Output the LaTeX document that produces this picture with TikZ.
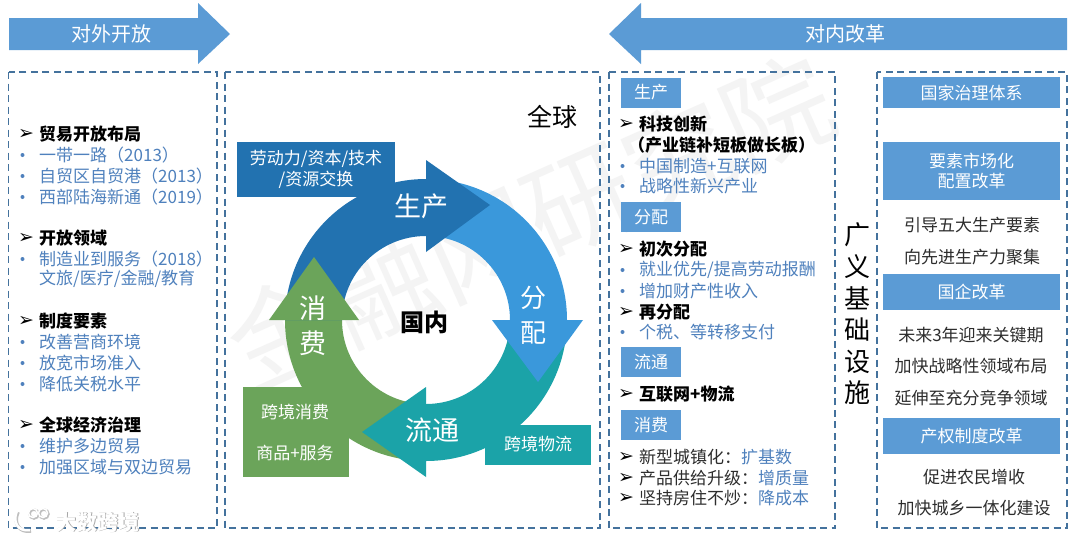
\documentclass[tikz,border=0pt]{standalone}
\usepackage{fontspec}
\usepackage{xcolor}
\setmainfont{Noto Sans CJK SC}
\newfontfamily\symfont{DejaVu Sans}
\usetikzlibrary{positioning, calc}
\definecolor{headblue}{RGB}{91, 155, 213}
\definecolor{panelblue}{RGB}{68, 114, 157}
\definecolor{listblue}{RGB}{79, 129, 189}
\definecolor{proddark}{RGB}{34, 114, 176}
\definecolor{distblue}{RGB}{58, 152, 219}
\definecolor{circteal}{RGB}{27, 163, 168}
\definecolor{consgreen}{RGB}{107, 164, 90}
\definecolor{marktext}{RGB}{244, 244, 244}
\definecolor{plaintext}{RGB}{45, 45, 45}
\newcommand{\pxfont}[1]{\fontsize{#1}{#1}\selectfont}
\tikzset{
    panelbox/.style={draw=panelblue, line width=1.2pt, dash pattern=on 7pt off 4.5pt},
    tagbox/.style={fill=headblue, text=white, inner sep=0pt, minimum width=60pt, minimum height=30pt, font=\pxfont{17}},
    reformbox/.style={fill=headblue, text=white, inner sep=0pt, minimum width=177pt, align=center, font=\pxfont{17}},
    leadline/.style={anchor=west, inner sep=0pt, text=black, font=\pxfont{17}\bfseries},
    listline/.style={anchor=west, inner sep=0pt, text=listblue, font=\pxfont{17}},
    markline/.style={anchor=west, inner sep=0pt, text=plaintext, font=\pxfont{17}},
    reformline/.style={inner sep=0pt, text=plaintext, font=\pxfont{17}},
    ringtext/.style={inner sep=0pt, text=white, font=\pxfont{27}},
    sidetext/.style={inner sep=0pt, text=white, align=center, font=\pxfont{17}},
    pointer/.style={inner sep=0pt, text=black, font=\symfont\pxfont{19}},
}
% one quarter of the ring, from angle #2 to angle #3
\newcommand{\ringpart}[3]{
    \fill[#1] ([shift={(ringctr)}]#2:141) arc[start angle=#2, end angle=#3, radius=141]
        -- ([shift={(ringctr)}]#3:84) arc[start angle=#3, end angle=#2, radius=84] -- cycle;
}
\newcommand{\bulletdot}[1]{\fill[listblue] (#1) circle (2pt);}
\begin{document}
\begin{tikzpicture}[x=1pt, y=1pt]
    \useasboundingbox (0,0) rectangle (1080,-542);
    \fill[white] (0,0) rectangle (1080,-542);

    % Watermark
    \node[rotate=24, text=marktext, font=\pxfont{108}, inner sep=0pt] (stamp) at (530,-222) {金融网研究院};

    % Top arrows
    \fill[headblue] (9,-18) -- (198,-18) -- (198,-3) -- (230,-34) -- (198,-64) -- (198,-50) -- (9,-50) -- cycle;
    \fill[headblue] (1067,-18) -- (641,-18) -- (641,-3) -- (609,-34) -- (641,-64) -- (641,-50) -- (1067,-50) -- cycle;
    \node[text=white, font=\pxfont{20}, inner sep=0pt] (openttl) at (111,-34) {对外开放};
    \node[text=white, font=\pxfont{20}, inner sep=0pt] (reformttl) at (845,-34) {对内改革};

    % Panels
    \draw[panelbox] (8.5,-72) rectangle (217,-528);
    \draw[panelbox] (225,-72) rectangle (600,-528);
    \draw[panelbox] (609,-72) rectangle (835,-528);
    \draw[panelbox] (877,-72) rectangle (1067,-528);

    % Left panel
    \foreach \ypos/\txt in {134/贸易开放布局, 238/开放领域, 321/制度要素, 425/全球经济治理}{
        \node[pointer] at (26,-\ypos) {➢};
        \node[leadline] at (39,-\ypos) {\txt};
    }
    \foreach \ypos/\txt in {155/一带一路（2013）, 176/自贸区自贸港（2013）, 197/西部陆海新通（2019）, 259/制造业到服务（2018）, 342/改善营商环境, 363/放宽市场准入, 384/降低关税水平, 446/维护多边贸易, 467/加强区域与双边贸易}{
        \bulletdot{22.5,-\ypos}
        \node[listline] at (39,-\ypos) {\txt};
    }
    \node[listline] (culture) at (39,-279) {文旅/医疗/金融/教育};

    % Ring
    \coordinate (ringctr) at (426,-320);
    \fill[consgreen] (243,-387) rectangle (349,-477);
    \ringpart{consgreen}{270}{180}
    \ringpart{circteal}{360}{270}
    \fill[circteal] (485,-425) rectangle (591,-465);
    \fill[circteal] (426,-387) -- (362,-432) -- (426,-477) -- cycle;
    \ringpart{distblue}{90}{0}
    \fill[distblue] (492,-320) -- (583,-320) -- (538,-382) -- cycle;
    \fill[proddark] (237,-142) rectangle (395,-197);
    \ringpart{proddark}{180}{90}
    \fill[proddark] (426,-160) -- (490,-205) -- (426,-252) -- cycle;
    \fill[consgreen] (269,-320) -- (314,-257) -- (359,-320) -- cycle;

    % Ring labels
    \node[ringtext] (prod) at (421,-206) {生产};
    \node[ringtext, font=\pxfont{26}] (dist) at (533,-298) {分};
    \node[ringtext, font=\pxfont{26}] (dist2) at (533,-333) {配};
    \node[ringtext] (circ) at (432,-430) {流通};
    \node[ringtext] (cons) at (313,-308) {消};
    \node[ringtext] (cons2) at (313,-343) {费};
    \node[sidetext] (factors) at (316,-159) {劳动力/资本/技术};
    \node[sidetext] (factors2) at (316,-180) {/资源交换};
    \node[sidetext] (logistics) at (538,-444) {跨境物流};
    \node[sidetext] (crossbuy) at (295,-412) {跨境消费};
    \node[sidetext] (goods) at (295,-453) {商品+服务};
    \node[inner sep=0pt, font=\pxfont{24}\bfseries] (domestic) at (424,-322) {国内};
    \node[inner sep=0pt, font=\pxfont{25}] (world) at (552,-117) {全球};

    % Middle list
    \node[tagbox] (tagprod) at (651,-92.5) {生产};
    \node[tagbox] (tagdist) at (651,-217) {分配};
    \node[tagbox] (tagcirc) at (651,-362) {流通};
    \node[tagbox] (tagcons) at (651,-425) {消费};
    \foreach \ypos/\txt in {124/科技创新, 249/初次分配, 312/再分配, 394/互联网+物流}{
        \node[pointer] at (626,-\ypos) {➢};
        \node[leadline] at (639,-\ypos) {\txt};
    }
    \node[leadline] (chainfix) at (628,-145) {（产业链补短板做长板）};
    \foreach \ypos/\txt in {166/中国制造+互联网, 186/战略性新兴产业, 270/{就业优先/提高劳动报酬}, 291/增加财产性收入, 332/个税、等转移支付}{
        \bulletdot{622.5,-\ypos}
        \node[listline] at (639,-\ypos) {\txt};
    }
    \foreach \ypos/\first/\second in {457/新型城镇化：/扩基数, 478/产品供给升级：/增质量, 498/坚持房住不炒：/降成本}{
        \node[pointer] at (626,-\ypos) {➢};
        \node[markline] at (639,-\ypos) {\first\textcolor{listblue}{\second}};
    }

    % Right column
    \node[inner sep=0pt, font=\pxfont{26}] (infra1) at (857,-235) {广};
    \node[inner sep=0pt, font=\pxfont{26}] (infra2) at (857,-267) {义};
    \node[inner sep=0pt, font=\pxfont{26}] (infra3) at (857,-298) {基};
    \node[inner sep=0pt, font=\pxfont{26}] (infra4) at (857,-330) {础};
    \node[inner sep=0pt, font=\pxfont{26}] (infra5) at (857,-362) {设};
    \node[inner sep=0pt, font=\pxfont{26}] (infra6) at (857,-393) {施};
    \node[reformbox, minimum height=31pt] (govern) at (971.5,-92.5) {国家治理体系};
    \node[reformbox, minimum height=58pt] (market) at (971.5,-171) {要素市场化\\[3pt]配置改革};
    \node[reformbox, minimum height=36pt] (soe) at (971.5,-292) {国企改革};
    \node[reformbox, minimum height=36pt] (property) at (971.5,-436) {产权制度改革};
    \foreach \ypos/\xpos/\txt in {225/972/引导五大生产要素, 257/972/向先进生产力聚集, 335/971/未来3年迎来关键期, 366/971/加快战略性领域布局, 398/971/延伸至充分竞争领域, 477/974/促进农民增收, 508/974/加快城乡一体化建设}{
        \node[reformline] at (\xpos,-\ypos) {\txt};
    }

    % Logo
    \draw[black!25, line width=2.5pt] (34,-514) circle (4.5) (44,-514) circle (4.5);
    \draw[white, line width=1.5pt] (33,-513) circle (4.5) (43,-513) circle (4.5);
    \draw[black!25, line width=3.5pt] (18,-512) .. controls (13,-523) and (19,-533) .. (31,-531);
    \draw[white, line width=2.5pt] (17,-511) .. controls (12,-522) and (18,-532) .. (30,-530);
    \node[text=black!35, font=\pxfont{21}\bfseries, inner sep=0pt] (logoshade) at (98.7,-522.7) {大数跨境};
    \node[text=white, font=\pxfont{21}\bfseries, inner sep=0pt] (logotext) at (98,-522) {大数跨境};
\end{tikzpicture}
\end{document}
